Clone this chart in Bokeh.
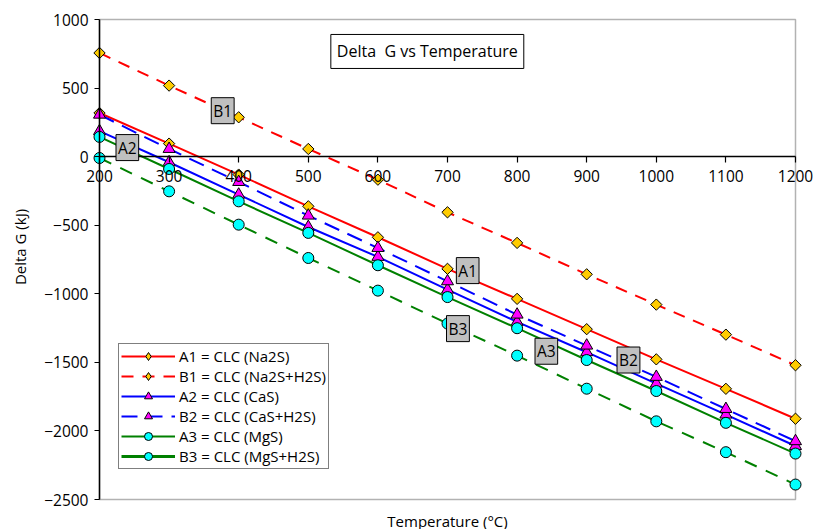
import math
from bokeh.plotting import figure
from bokeh.models import (Range1d, FixedTicker, LinearAxis, Label, Legend,
                          LegendItem, BoxAnnotation)
from bokeh.embed import file_html
from bokeh.resources import INLINE

# ---- data ----
temperature = [200, 300, 400, 500, 600, 700, 800, 900, 1000, 1100, 1200]
a1_na2s = [318, 95, -131, -362, -588, -818, -1037, -1258, -1478, -1693, -1911]
b1_na2s_h2s = [756, 518, 287, 56, -168, -406, -629, -858, -1079, -1298, -1521]
a2_cas = [186, -41, -277, -513, -731, -970, -1205, -1426, -1655, -1881, -2110]
b2_cas_h2s = [306, 56, -185, -430, -666, -909, -1152, -1378, -1606, -1840, -2075]
a3_mgs = [144, -90, -326, -556, -792, -1024, -1251, -1483, -1709, -1941, -2165]
b3_mgs_h2s = [-10, -253, -496, -739, -977, -1217, -1451, -1692, -1930, -2155, -2391]

series_names = ["A1 = CLC (Na2S)", "B1 = CLC (Na2S+H2S)", "A2 = CLC (CaS)",
                "B2 = CLC (CaS+H2S)", "A3 = CLC (MgS)", "B3 = CLC (MgS+H2S)"]

x_ticks = [200, 300, 400, 500, 600, 700, 800, 900, 1000, 1100, 1200]
x_tick_labels = ["200", "300", "400", "500", "600", "700", "800", "900", "1000", "1100", "1200"]
y_ticks = [-2500, -2000, -1500, -1000, -500, 0, 500, 1000]
y_tick_labels = ["\u22122500", "\u22122000", "\u22121500", "\u22121000", "\u2212500", "0", "500", "1000"]

chart_title = "Delta \u00a0G vs Temperature"
x_title = "Temperature (\u00b0C)"
y_title = "Delta G (kJ)"

# callout labels: (text, temperature, delta G)
callouts = [("B1", 377, 335), ("A2", 240, 66), ("A1", 729, -831),
            ("B3", 715, -1254), ("A3", 842, -1419), ("B2", 960, -1483)]

# ---- layout: the frame fills the whole figure; axes are placed inside ----
X_MIN, X_MAX = 200, 1200
Y_MIN, Y_MAX = -2500, 1000
W, H = 815, 529
PLOT_LEFT, PLOT_TOP = 99, 19          # pixel position of (X_MIN, Y_MAX)
PLOT_W, PLOT_H = 696, 480             # pixel size of the plot box
sx = PLOT_W / (X_MAX - X_MIN)
sy = PLOT_H / (Y_MAX - Y_MIN)
x0 = X_MIN - PLOT_LEFT / sx
y1 = Y_MAX + PLOT_TOP / sy

FONT = "Open Sans"
FS = "15.5px"

p = figure(width=W, height=H,
           x_range=Range1d(x0, x0 + W / sx), y_range=Range1d(y1 - H / sy, y1),
           output_backend="svg", toolbar_location=None, title=None,
           x_axis_location=None, y_axis_location=None, min_border=0)
p.background_fill_color = "white"
p.border_fill_color = "white"
p.outline_line_color = None
p.xgrid.visible = False
p.ygrid.visible = False

# plot-area box
p.add_layout(BoxAnnotation(left=X_MIN, right=X_MAX, bottom=Y_MIN, top=Y_MAX,
                           fill_alpha=0, line_color="black", line_width=1.5,
                           level="underlay"))

# y axis at x = 200
ya = LinearAxis(fixed_location=X_MIN, bounds=(Y_MIN, Y_MAX),
                ticker=FixedTicker(ticks=y_ticks),
                major_label_overrides={t: l for t, l in zip(y_ticks, y_tick_labels)},
                axis_line_color="black", axis_line_width=1.5,
                major_tick_line_color="black", major_tick_line_width=1.2,
                major_tick_out=5, major_tick_in=0, minor_tick_line_color=None,
                major_label_standoff=6, major_label_text_font=FONT,
                major_label_text_font_size=FS, major_label_text_color="black")
p.add_layout(ya, "left")

# x axis crossing at y = 0
xa = LinearAxis(fixed_location=0, bounds=(X_MIN, X_MAX),
                ticker=FixedTicker(ticks=x_ticks),
                major_label_overrides={t: l for t, l in zip(x_ticks, x_tick_labels)},
                axis_line_color="black", axis_line_width=1.5,
                major_tick_line_color="black", major_tick_line_width=1.2,
                major_tick_out=6, major_tick_in=0, minor_tick_line_color=None,
                major_label_standoff=7, major_label_text_font=FONT,
                major_label_text_font_size=FS, major_label_text_color="black")
p.add_layout(xa, "below")

# axis titles
p.add_layout(Label(x=X_MIN - 80 / sx, y=Y_MAX - 227.5 / sy, text=y_title,
                   angle=math.pi / 2, text_align="center", text_baseline="middle",
                   text_font=FONT, text_font_size="15px", text_color="black"))
p.add_layout(Label(x=(X_MIN + X_MAX) / 2, y=Y_MIN - 21 / sy, text=x_title,
                   text_align="center", text_baseline="middle",
                   text_font=FONT, text_font_size="15px", text_color="black"))

styles = [
    (a1_na2s, "#FF0000", "solid", "square", "#FFCC00", 8, math.pi / 4),
    (b1_na2s_h2s, "#FF0000", "12 9", "square", "#FFCC00", 8, math.pi / 4),
    (a2_cas, "#0000FF", "solid", "triangle", "#FF00FF", 12, 0),
    (b2_cas_h2s, "#0000FF", "16 9", "triangle", "#FF00FF", 12, 0),
    (a3_mgs, "#008000", "solid", "circle", "#00FFFF", 11, 0),
    (b3_mgs_h2s, "#008000", "13 10", "circle", "#00FFFF", 11, 0),
]

items = []
for i, (name, (vals, col, dash, mk, fill, sz, ang)) in enumerate(zip(series_names, styles)):
    ln = p.line(temperature, vals, line_color=col, line_width=2, line_dash=dash)
    sc = p.scatter(temperature, vals, marker=mk, size=sz, angle=ang,
                   fill_color=fill, line_color="black", line_width=1)
    leg_line, leg_mark = ln, sc
    if i == 5:
        # the reference legend shows this entry with a heavier solid line;
        # a one-point line draws nothing in the plot, only its legend swatch
        leg_line = p.line(temperature[:1], vals[:1], line_color=col, line_width=3)
    if mk == "square":
        # legend swatches ignore marker rotation: use a diamond swatch instead
        leg_mark = p.scatter([math.nan], [math.nan], marker="diamond", size=sz,
                             fill_color=fill, line_color="black", line_width=1)
    items.append(LegendItem(label=name, renderers=[leg_line, leg_mark]))

legend = Legend(items=items, location=(118, 60), orientation="vertical",
                border_line_color="black", border_line_width=1,
                background_fill_color="white", background_fill_alpha=1,
                label_text_font=FONT, label_text_font_size="15px", label_text_color="black",
                glyph_width=54, glyph_height=20, label_height=20,
                label_standoff=4, spacing=0, padding=2, margin=0)
p.add_layout(legend)

# chart title box inside the plot
p.add_layout(Label(x=671, y=767, text=chart_title, text_align="center",
                   text_baseline="middle", text_font=FONT, text_font_size="16px",
                   text_color="black", background_fill_color="white",
                   border_line_color="black", border_line_width=1, padding=6))

for txt, tx, ty in callouts:
    p.add_layout(Label(x=tx, y=ty, text=txt, text_align="center",
                       text_baseline="middle", text_font=FONT, text_font_size=FS,
                       text_color="black", background_fill_color="#C0C0C0",
                       border_line_color="black", border_line_width=1, padding=2))

open("out.html", "w").write(file_html(p, INLINE))
